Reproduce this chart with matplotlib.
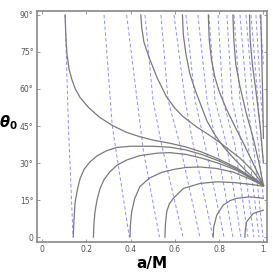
import numpy as np
import matplotlib
matplotlib.use('Agg')
import matplotlib.pyplot as plt

# solid gray contours, each as (a/M, theta0 in degrees)
gray_curves = {
    'g1': [(0.104, 90), (0.107, 82), (0.112, 74.4), (0.122, 68), (0.134, 64), (0.15, 60),
           (0.172, 56.5), (0.21, 52.5), (0.26, 48.5), (0.322, 45), (0.38, 42.5), (0.44, 40.7),
           (0.50, 39.3), (0.578, 38), (0.65, 36.5), (0.72, 34.5), (0.80, 31.5), (0.88, 28),
           (0.94, 24.5), (1.0, 21)],
    'g2': [(0.141, 0), (0.143, 5), (0.149, 14), (0.16, 19.5), (0.172, 23.8), (0.19, 27.5),
           (0.217, 30.5), (0.25, 33), (0.292, 35), (0.337, 36.3), (0.40, 36.8), (0.50, 36.8),
           (0.578, 36.4), (0.65, 35.3), (0.72, 33.5), (0.80, 30.8), (0.88, 27.5), (0.94, 24.3),
           (1.0, 21)],
    'g3': [(0.232, 0), (0.234, 5), (0.239, 10.3), (0.248, 15), (0.262, 19.7), (0.28, 23.3),
           (0.307, 26.5), (0.34, 29.2), (0.382, 31.2), (0.442, 33), (0.52, 34), (0.578, 34.2),
           (0.65, 33.5), (0.72, 32), (0.80, 29.8), (0.88, 27), (0.94, 24), (1.0, 21)],
    'g4': [(0.397, 0), (0.399, 5), (0.405, 10.3), (0.418, 15.5), (0.442, 20.5), (0.487, 24),
           (0.54, 26.2), (0.60, 27.5), (0.65, 28.2), (0.713, 28.4), (0.789, 27.8), (0.864, 26.3),
           (0.94, 23.5), (1.0, 20.8)],
    'g5': [(0.555, 0), (0.557, 5), (0.563, 10.3), (0.575, 13.5), (0.593, 15.7), (0.638, 19.7),
           (0.713, 21.7), (0.789, 22.4), (0.864, 22.1), (0.939, 21.4), (1.0, 20.6)],
    'g6': [(0.773, 0), (0.775, 4), (0.789, 8.9), (0.819, 13), (0.85, 14.8), (0.879, 15.7),
           (0.939, 16.3), (1.0, 15.7)],
    'g7': [(0.916, 0), (0.918, 3), (0.924, 6.2), (0.954, 9.6), (1.0, 10.9)],
    't1': [(0.446, 90), (0.45, 85), (0.46, 79), (0.475, 75), (0.488, 71.7), (0.52, 64.5),
           (0.561, 57), (0.60, 52.2), (0.637, 48.8), (0.70, 44.5), (0.744, 42), (0.80, 38.5),
           (0.894, 32), (0.95, 27), (1.0, 21)],
    't2': [(0.634, 90), (0.638, 82), (0.65, 74), (0.668, 66), (0.69, 60), (0.715, 54),
           (0.745, 47), (0.78, 41.5), (0.82, 36.5), (0.87, 31.5), (0.93, 26), (1.0, 21)],
    't3': [(0.751, 90), (0.755, 80), (0.765, 72), (0.78, 65), (0.80, 59), (0.832, 52),
           (0.87, 45), (0.907, 38.5), (0.95, 30.5), (1.0, 21)],
    't4': [(0.862, 90), (0.866, 80), (0.875, 70), (0.894, 61), (0.92, 51), (0.954, 40),
           (0.98, 30), (1.0, 21)],
    't5': [(0.937, 90), (0.94, 80), (0.95, 70), (0.965, 60), (0.985, 45), (1.0, 30)],
    't6': [(0.988, 90), (0.992, 75), (0.997, 55), (1.0, 40)],
}

# blue dashed contours, same format
dashed_curves = [
    [(0.104, 90), (0.119, 45), (0.140, 0)],
    [(0.280, 90), (0.317, 45), (0.394, 0)],
    [(0.382, 90), (0.457, 35.3), (0.530, 0)],
    [(0.465, 90), (0.501, 55.5), (0.540, 37.3), (0.637, 0)],
    [(0.537, 90), (0.569, 55.5), (0.623, 37.3), (0.713, 0)],
    [(0.596, 90), (0.646, 55.5), (0.683, 37.3), (0.772, 0)],
    [(0.650, 90), (0.691, 55.5), (0.736, 37.3), (0.822, 0)],
    [(0.704, 90), (0.745, 55.5), (0.789, 37.3), (0.862, 0)],
    [(0.754, 90), (0.781, 55.5), (0.834, 37.3), (0.898, 0)],
    [(0.795, 90), (0.817, 55.5), (0.871, 37.3), (0.930, 0)],
    [(0.835, 90), (0.858, 55.5), (0.902, 37.3), (0.957, 0)],
    [(0.867, 90), (0.894, 55.5), (0.931, 37.3), (0.980, 0)],
    [(0.894, 90), (0.926, 55.5), (0.954, 37.3), (0.998, 0)],
    [(0.921, 90), (0.953, 55.5), (0.977, 37.3), (1.0, 15)],
    [(0.944, 90), (0.975, 55.5), (0.992, 37.3), (1.0, 30)],
    [(0.966, 90), (0.989, 55.5), (1.0, 45)],
    [(0.984, 90), (1.0, 70)],
]

xticks = [0, 0.2, 0.4, 0.6, 0.8, 1.0]
xticklabels = ['0', '0.2', '0.4', '0.6', '0.8', '1.']
yticks = [0, 15, 30, 45, 60, 75, 90]
yticklabels = ['0', '15\u00b0', '30\u00b0', '45\u00b0', '60\u00b0', '75\u00b0', '90\u00b0']

fig = plt.figure(figsize=(2.73, 2.75), dpi=100)
ax = fig.add_axes([0.1355, 0.12, 0.8425, 0.84])

for pts in dashed_curves:
    pts = np.array(pts)
    ax.plot(pts[:, 0], pts[:, 1], color='#8e8eff', lw=0.7, ls=(0, (3.5, 2.5)))

for name, pts in gray_curves.items():
    pts = np.array(pts)
    ax.plot(pts[:, 0], pts[:, 1], color='#7a7a7a', lw=0.9)

ax.set_xlim(-0.023, 1.016)
ax.set_ylim(-2, 91.6)
ax.set_xticks(xticks)
ax.set_xticklabels(xticklabels)
ax.set_yticks(yticks)
ax.set_yticklabels(yticklabels)
ax.tick_params(direction='in', length=2.5, width=0.6, colors='#888888',
               labelcolor='#555555', labelsize=5.5, top=True, right=True, pad=2.5)
for sp in ax.spines.values():
    sp.set_color('#888888')
    sp.set_linewidth(1.2)

ax.set_xlabel('a/M', fontsize=11, fontweight='bold', labelpad=1)
ax.set_ylabel(r'$\boldsymbol{\theta}_\mathbf{0}$', fontsize=10.5, rotation=0)
ax.yaxis.set_label_coords(-0.125, 0.475)

plt.savefig('out.png', dpi=100)
